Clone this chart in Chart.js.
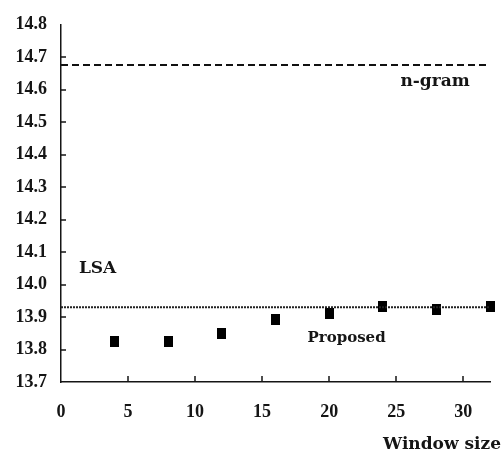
<!DOCTYPE html>
<html>
<head>
<meta charset="utf-8">
<script src="https://cdn.jsdelivr.net/npm/chart.js@4"></script>
<style>
  html, body { margin: 0; padding: 0; background: #fff; }
  #wrap { width: 503px; height: 455px; }
</style>
</head>
<body>
<div id="wrap"><canvas id="grafico"></canvas></div>
<script>
// values
var windowSizes = [4, 8, 12, 16, 20, 24, 28, 32];
var proposed = [13.826, 13.826, 13.85, 13.894, 13.912, 13.931, 13.922, 13.931];
var ngramLevel = 14.676;
var lsaLevel = 13.93;
var xRange = [0, 32];
var yRange = [13.7, 14.8];

var numFont = { family: "'Liberation Serif', serif", size: 18, weight: "bold" };
var textFont = "bold 17px 'DejaVu Serif', serif";
var ink = "#151515";

// small black rectangle marker
var marker = document.createElement("canvas");
marker.width = 9;
marker.height = 11;
var mctx = marker.getContext("2d");
mctx.fillStyle = "#000";
mctx.fillRect(0, 0, 9, 11);

// tick marks drawn inward, plus text labels
var extras = {
    id: "extras",
    afterDraw: function (chart) {
        var c = chart.ctx;
        var xs = chart.scales.x, ys = chart.scales.y;
        var area = chart.chartArea;
        c.save();
        c.strokeStyle = ink;
        c.lineWidth = 1.5;
        c.beginPath();
        xs.ticks.forEach(function (t) {
            if (t.value === xRange[0]) return;
            var px = Math.round(xs.getPixelForValue(t.value));
            c.moveTo(px, area.bottom);
            c.lineTo(px, area.bottom - 6);
        });
        ys.ticks.forEach(function (t) {
            if (Math.abs(t.value - yRange[0]) < 1e-9 || Math.abs(t.value - yRange[1]) < 1e-9) return;
            var py = Math.round(ys.getPixelForValue(t.value));
            c.moveTo(area.left, py);
            c.lineTo(area.left + 5, py);
        });
        c.stroke();

        c.fillStyle = ink;
        c.font = textFont;
        c.textAlign = "center";
        c.textBaseline = "middle";
        c.fillText("n-gram", xs.getPixelForValue(27.9), ys.getPixelForValue(14.626));
        c.fillText("LSA", xs.getPixelForValue(2.73), ys.getPixelForValue(14.048));
        c.font = "bold 15px 'DejaVu Serif', serif";
        c.fillText("Proposed", xs.getPixelForValue(21.3), ys.getPixelForValue(13.835));
        c.font = textFont;
        c.textAlign = "right";
        c.fillText("Window size", 501, 445);
        c.restore();
    }
};

new Chart(document.getElementById("grafico").getContext("2d"), {
    type: "scatter",
    data: {
        datasets: [{
            label: "n-gram",
            type: "line",
            data: [{ x: xRange[0], y: ngramLevel }, { x: xRange[1], y: ngramLevel }],
            borderColor: "#111",
            borderWidth: 2,
            borderDash: [7, 4],
            pointRadius: 0
        }, {
            label: "LSA",
            type: "line",
            data: [{ x: xRange[0], y: lsaLevel }, { x: xRange[1], y: lsaLevel }],
            borderColor: "#222",
            borderWidth: 2,
            borderDash: [2, 1],
            pointRadius: 0
        }, {
            label: "Proposed",
            data: windowSizes.map(function (w, i) { return { x: w, y: proposed[i] }; }),
            pointStyle: marker,
            clip: 10
        }]
    },
    options: {
        responsive: true,
        maintainAspectRatio: false,
        animation: false,
        events: [],
        layout: { padding: { top: 18, right: 13, bottom: 0, left: 0 } },
        plugins: {
            legend: { display: false },
            tooltip: { enabled: false }
        },
        scales: {
            x: {
                type: "linear",
                min: xRange[0],
                max: xRange[1],
                grid: { display: false, drawTicks: false },
                border: { display: true, color: ink, width: 1.5 },
                ticks: {
                    stepSize: 5,
                    includeBounds: false,
                    padding: 20,
                    color: ink,
                    font: numFont,
                    maxRotation: 0
                },
                afterFit: function (s) { s.height = 73; }
            },
            y: {
                min: yRange[0],
                max: yRange[1],
                grid: { display: false, drawTicks: false },
                border: { display: true, color: ink, width: 1.5 },
                ticks: {
                    stepSize: 0.1,
                    padding: 14,
                    color: ink,
                    font: numFont,
                    callback: function (v) { return v.toFixed(1); }
                },
                afterFit: function (s) { s.width = 61; }
            }
        }
    },
    plugins: [extras]
});
</script>
</body>
</html>
